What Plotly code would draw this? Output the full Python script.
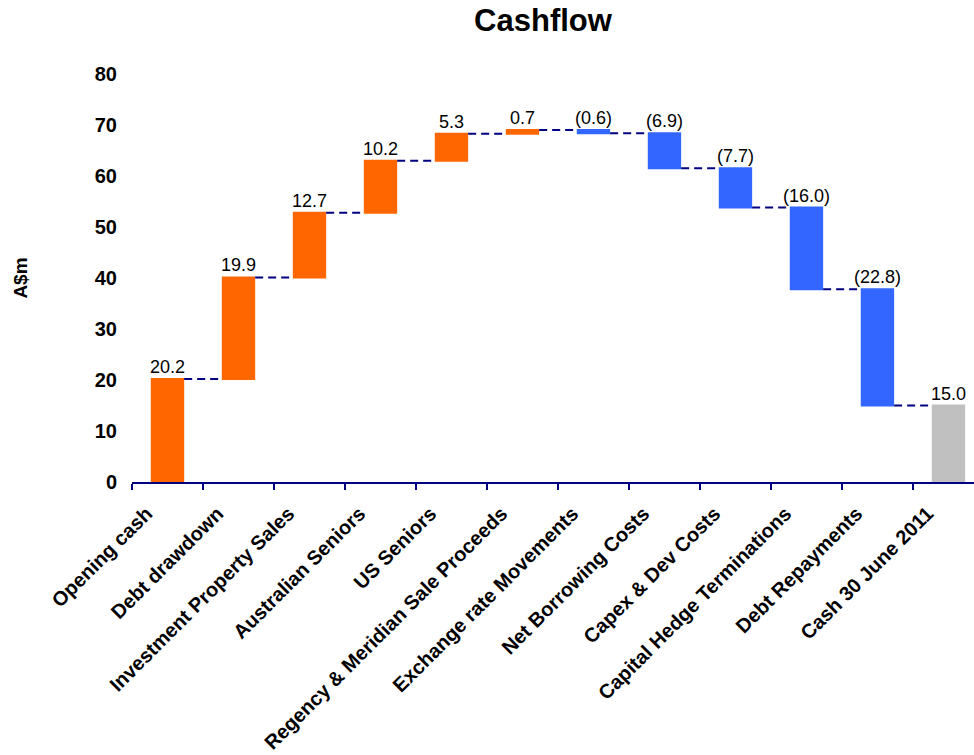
import plotly.graph_objects as go

categories = [
    "Opening cash", "Debt drawdown", "Investment Property Sales",
    "Australian Seniors", "US Seniors", "Regency & Meridian Sale Proceeds",
    "Exchange rate Movements", "Net Borrowing Costs", "Capex & Dev Costs",
    "Capital Hedge Terminations", "Debt Repayments", "Cash 30 June 2011",
]
values = [20.2, 19.9, 12.7, 10.2, 5.3, 0.7, -0.6, -6.9, -7.7, -16.0, -22.8, 15.0]
measures = ["relative"] * 11 + ["total"]
y_ticks = [0, 10, 20, 30, 40, 50, 60, 70, 80]

ORANGE = "#FF6600"
BLUE = "#3366FF"
GREY = "#C0C0C0"
NAVY = "#000080"
FONT = "Liberation Sans, Arial, sans-serif"


def fmt(v):
    return f"({abs(v):.1f})" if v < 0 else f"{v:.1f}"


# running totals to position value labels at the top of each bar
tops = []
running = 0.0
for v, m in zip(values, measures):
    if m == "total":
        tops.append(running)
    else:
        start = running
        running += v
        tops.append(max(start, running))

fig = go.Figure(go.Waterfall(
    x=categories,
    y=values,
    measure=measures,
    increasing=dict(marker=dict(color=ORANGE)),
    decreasing=dict(marker=dict(color=BLUE)),
    totals=dict(marker=dict(color=GREY)),
    connector=dict(mode="between", line=dict(color=NAVY, width=2, dash="8px,5px")),
    width=0.47,
    hoverinfo="skip",
))

for c, t, v in zip(categories, tops, values):
    fig.add_annotation(
        x=c, y=t, text=fmt(v), showarrow=False, yanchor="bottom", yshift=0,
        font=dict(family=FONT, size=18, color="black"),
    )

fig.update_layout(
    width=974, height=755,
    margin=dict(l=132, r=0, t=74, b=273),
    paper_bgcolor="white", plot_bgcolor="white",
    showlegend=False,
    title=dict(text="<b>Cashflow</b>", x=543 / 974, xanchor="center",
               y=1 - 20 / 755, yanchor="middle",
               font=dict(family=FONT, size=31, color="black")),
    font=dict(family=FONT, color="black"),
)

fig.update_xaxes(
    type="category", range=[-0.5, 11.36], automargin=False,
    showline=True, linecolor=NAVY, linewidth=2,
    ticks="outside", tickson="boundaries", ticklen=6, tickcolor=NAVY, tickwidth=2,
    tickangle=-45, tickfont=dict(family=FONT, size=20, color="black"),
    ticklabelshift=-21, ticklabelstandoff=10,
    showgrid=False, zeroline=False,
    ticktext=[f"<b>{c}</b>" for c in categories], tickvals=categories,
)

fig.update_yaxes(
    range=[0, 80], automargin=False,
    tickvals=y_ticks, ticktext=[f"<b>{t}</b>" for t in y_ticks],
    showline=False, showgrid=False, zeroline=False, ticks="",
    tickfont=dict(family=FONT, size=20, color="black"), ticklabelstandoff=14,
    title=dict(text="<b>A$m</b>", font=dict(family=FONT, size=19, color="black"), standoff=62),
)

fig.write_html("out.html")
